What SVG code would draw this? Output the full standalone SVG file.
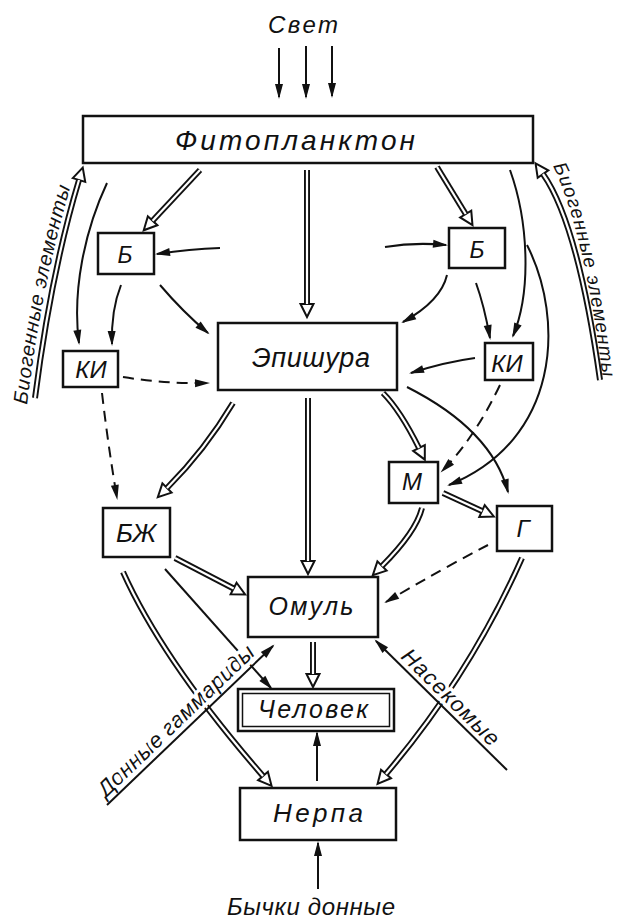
<svg xmlns="http://www.w3.org/2000/svg" width="622" height="919" viewBox="0 0 622 919">
<defs>
<style>
.box{fill:#fff;stroke:#111;stroke-width:2.5}
.thin{fill:none;stroke:#111;stroke-width:1.5}
.lbl{font-family:"Liberation Sans",Arial,sans-serif;font-style:italic;fill:#111;text-anchor:middle}
.s{fill:none;stroke:#111;stroke-width:2;marker-end:url(#a)}
.dash{stroke-dasharray:11 7}
.do{fill:none;stroke:#111;stroke-width:6;marker-end:url(#h)}
.di{fill:none;stroke:#fff;stroke-width:2.2}
.halo{stroke:#fff;stroke-width:7;paint-order:stroke;stroke-linejoin:round}
</style>
<marker id="a" markerUnits="userSpaceOnUse" markerWidth="16" markerHeight="10" refX="13" refY="4" orient="auto" overflow="visible">
<path d="M0,0 L15,4 L0,8 Z" fill="#111"/>
</marker>
<marker id="h" markerUnits="userSpaceOnUse" markerWidth="16" markerHeight="16" refX="0" refY="7" orient="auto" overflow="visible">
<path d="M0,0.5 L13,7 L0,13.5 Z" fill="#fff" stroke="#111" stroke-width="2"/>
</marker>
<path id="bioL" d="M27,405 Q43,275 75,172"/>
<path id="bioR" d="M553,166 Q585,232 604,388"/>
</defs>
<rect width="622" height="919" fill="#fff"/>

<g id="connectors">
<!-- light -->
<path class="s" d="M279,48 L279,97"/>
<path class="s" d="M306,46 L306,97"/>
<path class="s" d="M332,46 L332,96"/>
<!-- biogenic returns -->
<path class="do" d="M35,398 Q51,273 79,180"/><path class="di" d="M35,398 Q51,273 79,180"/>
<path class="do" d="M600,380 Q578,224 543,174"/><path class="di" d="M600,380 Q578,224 543,174"/>
<!-- double flows -->
<path class="do" d="M200,170 L152.6,220.8"/><path class="di" d="M200,170 L152.6,220.8"/>
<path class="do" d="M307,170 L307,304"/><path class="di" d="M307,170 L307,304"/>
<path class="do" d="M437,167 L465.7,214"/><path class="di" d="M437,167 L465.7,214"/>
<path class="do" d="M233,403 Q205,450 167,488"/><path class="di" d="M233,403 Q205,450 167,488"/>
<path class="do" d="M308,398 L308,561"/><path class="di" d="M308,398 L308,561"/>
<path class="do" d="M383,393 Q400,410 419,448"/><path class="di" d="M383,393 Q400,410 419,448"/>
<path class="do" d="M443,493 L482,511"/><path class="di" d="M443,493 L482,511"/>
<path class="do" d="M422,508 Q416,532 382,566"/><path class="di" d="M422,508 Q416,532 382,566"/>
<path class="do" d="M175,558 L233.6,588.5"/><path class="di" d="M175,558 L233.6,588.5"/>
<path class="do" d="M123,572 Q163,661 263,776"/><path class="di" d="M123,572 Q163,661 263,776"/>
<path class="do" d="M522,558 Q470,675 386,774"/><path class="di" d="M522,558 Q470,675 386,774"/>
<path class="do" d="M313,642 L313,674"/><path class="di" d="M313,642 L313,674"/>
<!-- single flows -->
<path class="s" d="M220,248 Q190,249 157,254"/>
<path class="s" d="M385,247 Q415,242 446,245"/>
<path class="s" d="M107,183 C85,230 72,290 79,343"/>
<path class="s" d="M121,285 Q111,310 112,344"/>
<path class="s" d="M160,285 Q183,312 208,333"/>
<path class="s dash" d="M123,377 Q165,384 208,383"/>
<path class="s dash" d="M102,393 Q108,445 117,498"/>
<path class="s" d="M447,275 Q441,301 403,322"/>
<path class="s" d="M476,283 Q484,305 490,338"/>
<path class="s" d="M510,170 C528,220 532,290 513,336"/>
<path class="s" d="M527,245 C565,320 560,440 449,485"/>
<path class="s" d="M475,358 Q445,362 411,373"/>
<path class="s dash" d="M500,385 Q474,439 442,471"/>
<path class="s" d="M407,387 Q492,430 508,492"/>
<path class="s dash" d="M488,545 Q440,570 386,602"/>
<path class="s" d="M165,569 L271,688"/>
<path class="s" d="M317,781 L317,733"/>
<path class="s" d="M318,889 L318,843"/>
<!-- external inputs with labels -->
<text class="lbl halo" font-size="22" textLength="208" transform="translate(181,726) rotate(-43.8)">Донные гаммариды</text>
<path class="s" d="M107,805 L273,646"/>
<text class="lbl halo" font-size="22" textLength="128" transform="translate(445.5,702.4) rotate(44.6)">Насекомые</text>
<path class="s" d="M507,770 L376,641"/>
<text class="lbl" font-size="20" style="text-anchor:start"><textPath href="#bioL" textLength="222">Биогенные элементы</textPath></text>
<text class="lbl" font-size="19" style="text-anchor:start"><textPath href="#bioR" textLength="218">Биогенные элементы</textPath></text>
</g>

<g id="svet"><text class="lbl" x="303" y="33" font-size="24" textLength="70">Свет</text></g>

<g id="fitoplankton">
<rect class="box" x="83" y="116" width="450" height="47"/>
<text class="lbl" x="295" y="150" font-size="28" textLength="240">Фитопланктон</text>
</g>
<g id="b-left">
<rect class="box" x="98" y="233" width="56" height="41"/>
<text class="lbl" x="125" y="263" font-size="23">Б</text>
</g>
<g id="ki-left">
<rect class="box" x="63" y="351" width="55" height="36"/>
<text class="lbl" x="91" y="378" font-size="24">КИ</text>
</g>
<g id="epishura">
<rect class="box" x="218" y="323" width="179" height="67"/>
<text class="lbl" x="311" y="367" font-size="27" textLength="118">Эпишура</text>
</g>
<g id="b-right">
<rect class="box" x="449" y="228" width="56" height="40"/>
<text class="lbl" x="477" y="258" font-size="23">Б</text>
</g>
<g id="ki-right">
<rect class="box" x="485" y="343" width="48" height="37"/>
<text class="lbl" x="507" y="372" font-size="24">КИ</text>
</g>
<g id="m">
<rect class="box" x="389" y="462" width="49" height="41"/>
<text class="lbl" x="412" y="490" font-size="24">М</text>
</g>
<g id="g">
<rect class="box" x="497" y="506" width="55" height="45"/>
<text class="lbl" x="523" y="537" font-size="24">Г</text>
</g>
<g id="bzh">
<rect class="box" x="103" y="508" width="67" height="49"/>
<text class="lbl" x="136" y="542" font-size="26">БЖ</text>
</g>
<g id="omul">
<rect class="box" x="248" y="577" width="130" height="60"/>
<text class="lbl" x="311" y="615" font-size="25" textLength="85">Омуль</text>
</g>
<g id="chelovek">
<rect class="box" x="238" y="689" width="156" height="42"/>
<rect class="thin" x="242.5" y="693.5" width="147" height="33"/>
<text class="lbl" x="313" y="718" font-size="25" textLength="110">Человек</text>
</g>
<g id="nerpa">
<rect class="box" x="240" y="788" width="156" height="52"/>
<text class="lbl" x="318" y="822" font-size="26" textLength="90">Нерпа</text>
</g>
<g id="bychki"><text class="lbl" x="311" y="915" font-size="24" textLength="168">Бычки донные</text></g>
</svg>
